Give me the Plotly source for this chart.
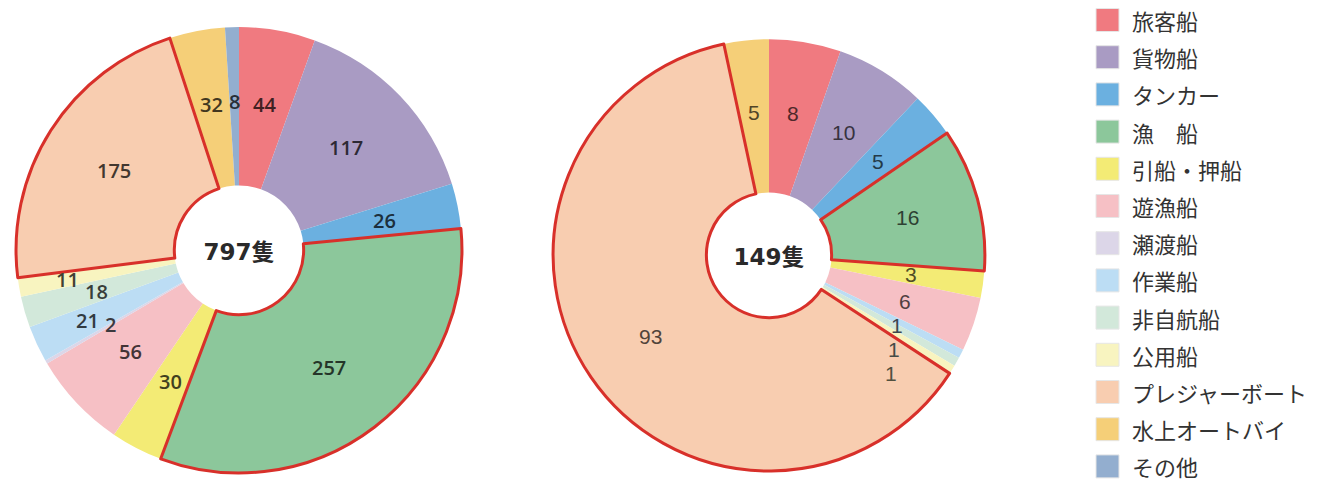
import math
import plotly.graph_objects as go

categories = ["旅客船", "貨物船", "タンカー", "漁　船", "引船・押船", "遊漁船", "瀬渡船",
              "作業船", "非自航船", "公用船", "プレジャーボート", "水上オートバイ", "その他"]
left_values = [44, 117, 26, 257, 30, 56, 2, 21, 18, 11, 175, 32, 8]
right_values = [8, 10, 5, 16, 3, 6, 0, 1, 1, 1, 93, 5, 0]
colors = ["#F07A80", "#A99BC3", "#6BB0E0", "#8CC79B", "#F3EB75", "#F6C0C5", "#DCD6E8",
          "#BCDDF4", "#D2E8DA", "#F8F4C0", "#F8CDB0", "#F5CF78", "#93AECF"]
highlights = ["漁　船", "プレジャーボート"]
unit = "隻"

RED = "#D8302A"
W, H = 1343, 484
HOLE = 0.29

left_dom = dict(x=[0.0119, 0.344], y=[0.0227, 0.944])
right_dom = dict(x=[0.4118, 0.7334], y=[0.0269, 0.919])

fig = go.Figure()
annots = []


def darker(hexcol, f):
    r, g, b = (int(hexcol[i:i + 2], 16) for i in (1, 3, 5))
    return f"rgb({int(r * f)},{int(g * f)},{int(b * f)})"


def slice_labels(values, domain, font_family, font_size, weight, shade, gap, mode):
    """Value labels at mid-ring of each slice (clockwise from 12 o'clock).
    Colliding labels are pushed outward (mode='radial') or stacked (mode='vertical')."""
    cx = (domain["x"][0] + domain["x"][1]) / 2 * W
    cy = H - (domain["y"][0] + domain["y"][1]) / 2 * H
    R = min((domain["x"][1] - domain["x"][0]) * W, (domain["y"][1] - domain["y"][0]) * H) / 2
    r0 = 0.665 * R
    total = sum(values)
    cum = 0
    placed = []
    raw_prev_y = None

    def collides(x, y, w):
        for px, py, pw in placed:
            if abs(x - px) < (w + pw) / 2 and abs(y - py) < gap - 0.01:
                return (px, py, pw)
        return None

    for v, col in zip(values, colors):
        if v <= 0:
            continue
        ang = (cum + v / 2) / total * 2 * math.pi
        cum += v
        w = len(str(v)) * 0.62 * font_size + 4
        r = r0
        x = cx + r * math.sin(ang)
        y = cy - r * math.cos(ang)
        direction = 1 if (raw_prev_y is None or y >= raw_prev_y) else -1
        raw_prev_y = y
        hit = collides(x, y, w)
        while hit is not None:
            if mode == "radial":
                r += 1
                x = cx + r * math.sin(ang)
                y = cy - r * math.cos(ang)
            else:
                y = hit[1] + direction * gap
            hit = collides(x, y, w)
        placed.append((x, y, w))
        annots.append(dict(xref="paper", yref="paper", x=x / W, y=1 - y / H,
                           xanchor="center", yanchor="middle", showarrow=False, text=str(v),
                           font=dict(family=font_family, size=font_size, weight=weight,
                                     color=darker(col, shade))))


def add_donut(values, domain, title_size):
    fig.add_trace(go.Pie(
        labels=categories, values=values, domain=domain, hole=HOLE,
        sort=False, direction="clockwise", rotation=0,
        marker=dict(colors=colors, line=dict(color="rgba(255,255,255,0)", width=0)),
        textinfo="none",
        title=dict(text=f"{sum(values)}{unit}", position="middle center",
                   font=dict(family="DejaVu Sans, Noto Sans CJK JP", size=title_size,
                             color="#2a2a2a", weight="bold")),
        showlegend=False, hoverinfo="label+value",
    ))
    # red outlines for highlighted slices drawn on top
    fig.add_trace(go.Pie(
        labels=categories, values=values, domain=domain, hole=HOLE,
        sort=False, direction="clockwise", rotation=0,
        marker=dict(colors=["rgba(0,0,0,0)"] * len(categories),
                    line=dict(color=[RED if c in highlights else "rgba(0,0,0,0)" for c in categories],
                              width=[3 if c in highlights else 0 for c in categories])),
        textinfo="none", showlegend=False, hoverinfo="skip",
    ))


add_donut(left_values, left_dom, 23)
add_donut(right_values, right_dom, 23)
slice_labels(left_values, left_dom, "Open Sans", 20, 600, 0.27, 23, "radial")
slice_labels(right_values, right_dom, "Liberation Sans", 21, 400, 0.33, 24, "vertical")

# Legend drawn as squares + text, one row per category
leg_x0, leg_size, leg_top, leg_step = 1096, 23, 20, 37.2
shapes = []
for i, (cat, col) in enumerate(zip(categories, colors)):
    cy = leg_top + i * leg_step
    shapes.append(dict(type="rect", xref="paper", yref="paper",
                       x0=leg_x0 / W, x1=(leg_x0 + leg_size) / W,
                       y0=1 - (cy + leg_size / 2) / H, y1=1 - (cy - leg_size / 2) / H,
                       fillcolor=col, line=dict(color="rgba(230,230,230,1)", width=1)))
    annots.append(dict(xref="paper", yref="paper", x=1130 / W, y=1 - cy / H,
                       xanchor="left", yanchor="middle", showarrow=False, text=cat,
                       font=dict(family="Noto Sans CJK JP", size=22, color="#333333")))

fig.update_layout(
    width=W, height=H, margin=dict(l=0, r=0, t=0, b=0),
    paper_bgcolor="white", plot_bgcolor="white",
    shapes=shapes, annotations=annots,
)

fig.write_html("out.html")
